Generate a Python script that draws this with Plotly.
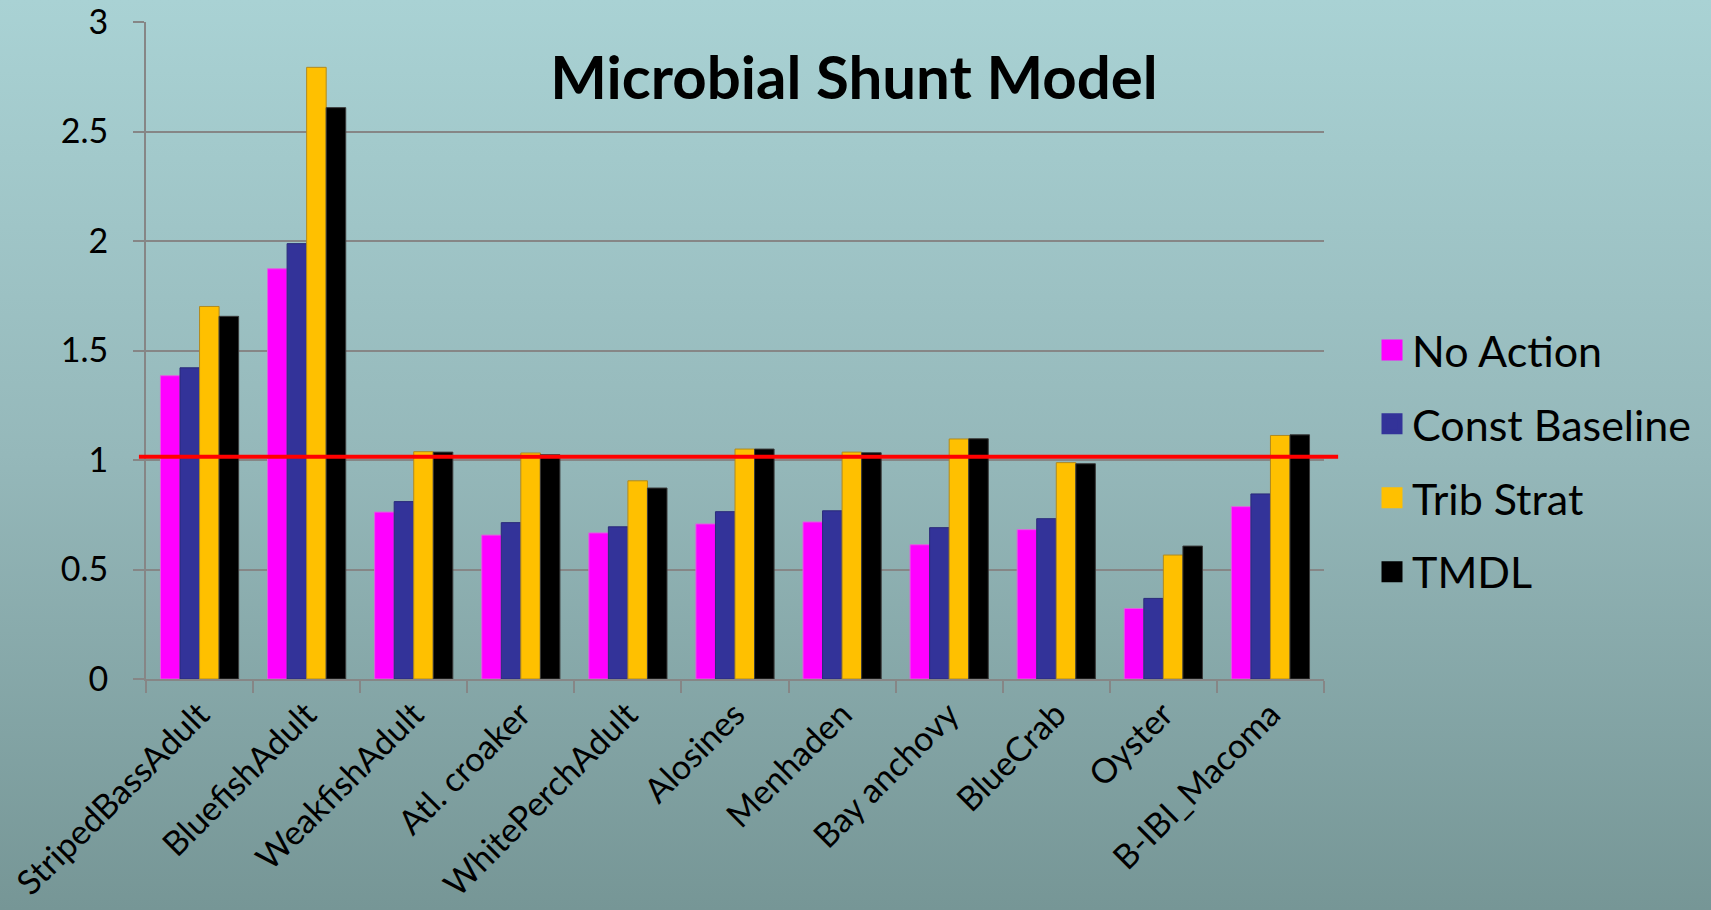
import base64
import plotly.graph_objects as go

categories = ["StripedBassAdult", "BluefishAdult", "WeakfishAdult", "Atl. croaker",
              "WhitePerchAdult", "Alosines", "Menhaden", "Bay anchovy", "BlueCrab",
              "Oyster", "B-IBI_Macoma"]
no_action = [1.385, 1.873, 0.762, 0.657, 0.667, 0.708, 0.717, 0.613, 0.682, 0.322, 0.787]
const_baseline = [1.421, 1.988, 0.810, 0.714, 0.695, 0.764, 0.768, 0.691, 0.732, 0.368, 0.845]
trib_strat = [1.701, 2.793, 1.038, 1.032, 0.905, 1.050, 1.036, 1.096, 0.988, 0.566, 1.112]
tmdl = [1.656, 2.609, 1.036, 1.024, 0.872, 1.050, 1.033, 1.097, 0.983, 0.607, 1.115]
series_names = ["No Action", "Const Baseline", "Trib Strat", "TMDL"]
reference_level = 1.015

colors = ["#FF00FF", "#333399", "#FFC000", "#000000"]
edge_colors = ["#E060E0", "#2A2A7A", "#B08A20", "#3A3A3A"]

W, H = 1711, 910
L, R, T, B = 146, 387, 22, 231
pw, ph = W - L - R, H - T - B

# vertical gradient backdrop, like the slide background
svg = f'''<svg xmlns="http://www.w3.org/2000/svg" width="{W}" height="{H}" preserveAspectRatio="none">
<defs><linearGradient id="g" x1="0" y1="0" x2="0" y2="1">
<stop offset="0" stop-color="#A9D2D4"/><stop offset="0.5" stop-color="#95B8BA"/>
<stop offset="1" stop-color="#769696"/></linearGradient></defs>
<rect width="{W}" height="{H}" fill="url(#g)"/></svg>'''
bg_uri = "data:image/svg+xml;base64," + base64.b64encode(svg.encode()).decode()

fig = go.Figure()
for i, (name, vals) in enumerate(zip(series_names, [no_action, const_baseline, trib_strat, tmdl])):
    fig.add_trace(go.Bar(
        x=categories,
        y=vals,
        name=name,
        legendgroup=name,
        showlegend=False,
        marker=dict(color=colors[i], line=dict(color=edge_colors[i], width=1)),
    ))
    # legend-only entry so the key gets a bigger square swatch
    fig.add_trace(go.Scatter(
        x=[None], y=[None],
        mode="markers",
        name=name,
        legendgroup=name,
        marker=dict(symbol="square", size=16, color=colors[i],
                    line=dict(color=colors[i], width=5)),
    ))

# red reference line across the chart
fig.add_shape(type="line", xref="paper", yref="y",
              x0=-0.006, x1=1.012, y0=reference_level, y1=reference_level,
              line=dict(color="#FF0000", width=4), layer="above")

fig.add_layout_image(dict(
    source=bg_uri, xref="paper", yref="paper",
    x=-L / pw, y=1 + T / ph, sizex=W / pw, sizey=H / ph,
    xanchor="left", yanchor="top", sizing="stretch", layer="below",
))

axis_grey = "#868686"
fig.update_layout(
    width=W, height=H,
    margin=dict(l=L, r=R, t=T, b=B, autoexpand=False),
    paper_bgcolor="#95B8BA",
    plot_bgcolor="rgba(0,0,0,0)",
    barmode="group",
    bargap=0.27,
    bargroupgap=0,
    font=dict(family="Lato, Carlito, sans-serif", color="#000000"),
    title=dict(
        text="<b>Microbial Shunt Model</b>",
        font=dict(size=60, family="Lato, sans-serif", color="#000000"),
        x=854 / W, xanchor="center", xref="container",
        y=1 - 78 / H, yanchor="middle", yref="container",
    ),
    showlegend=True,
    legend=dict(
        x=(1372 - L) / pw, xanchor="left",
        y=(H - B - 461) / ph, yanchor="middle",
        font=dict(size=43),
        bgcolor="rgba(0,0,0,0)",
        tracegroupgap=15,
        traceorder="grouped",
        itemsizing="trace",
    ),
    xaxis=dict(
        tickangle=-45,
        tickfont=dict(size=34),
        automargin=False,
        showline=True, linecolor=axis_grey, linewidth=2,
        ticks="outside", ticklen=12, tickcolor=axis_grey, tickwidth=2,
        tickson="boundaries",
        showgrid=False,
    ),
    yaxis=dict(
        range=[0, 3],
        dtick=0.5,
        tickfont=dict(size=34),
        automargin=False,
        ticklabeloverflow="allow",
        showline=True, linecolor=axis_grey, linewidth=2,
        ticks="outside", ticklen=11, tickcolor=axis_grey, tickwidth=2,
        ticklabelstandoff=18,
        showgrid=True, gridcolor=axis_grey, gridwidth=2,
        zeroline=False,
    ),
)

fig.write_html("out.html", config={"displayModeBar": False},
               post_script="document.body.style.margin='0';document.body.style.overflow='hidden';")
